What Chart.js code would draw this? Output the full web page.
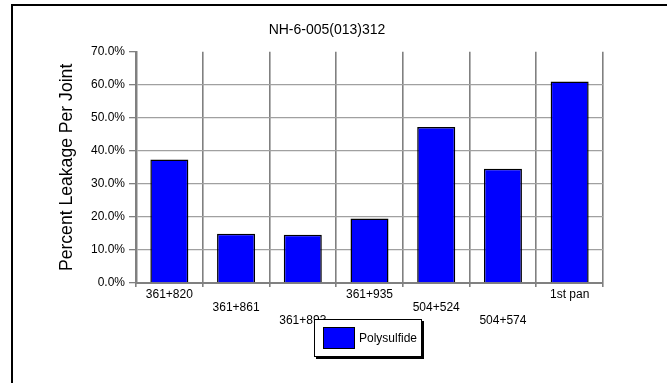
<!DOCTYPE html>
<html>
<head>
<meta charset="utf-8">
<script src="https://cdn.jsdelivr.net/npm/chart.js@4/dist/chart.umd.min.js"></script>
<style>
  html, body { margin: 0; padding: 0; background: #ffffff; }
  #wrap { width: 667px; height: 383px; position: relative; }
</style>
</head>
<body>
<div id="wrap"><canvas id="c" width="667" height="383"></canvas></div>
<script>
// Joint locations (stationing) along the project
const categories = ['361+820', '361+861', '361+893', '361+935', '504+524', '504+574', '1st pan'];
// Percent of joints showing leakage, by location
const leakagePercent = [37.4, 14.9, 14.6, 19.5, 47.2, 34.6, 61.0];
const seriesName = 'Polysulfide';
const chartTitle = 'NH-6-005(013)312';
const yAxisTitle = 'Percent Leakage Per Joint';
const yMax = 70;
const yStep = 5;

const FONT = '"Liberation Sans", Arial, Helvetica, sans-serif';

// Staggered category labels: three rows, cycling left to right
const staggered = categories.map((c, i) => {
  const row = i % 3;
  const lines = [];
  for (let k = 0; k < row; k++) lines.push('');
  lines.push(c);
  return lines;
});

// Frame lines along the top and left of the page
const framePlugin = {
  id: 'frame',
  afterDraw(chart) {
    const ctx = chart.ctx;
    ctx.save();
    ctx.fillStyle = '#000000';
    ctx.fillRect(11, 4, 656, 2);
    ctx.fillRect(11, 4, 2, 379);
    ctx.restore();
  }
};

// Boxed legend with drop shadow, placed under the axis
const boxLegend = {
  id: 'boxLegend',
  afterDraw(chart) {
    const ds = chart.data.datasets[0];
    const ctx = chart.ctx;
    const x = 314, y = 319, w = 108, h = 38;
    ctx.save();
    ctx.fillStyle = '#000000';
    ctx.fillRect(x + 2, y + 2, w, h);
    ctx.fillStyle = '#ffffff';
    ctx.fillRect(x, y, w, h);
    ctx.strokeStyle = '#000000';
    ctx.lineWidth = 1;
    ctx.strokeRect(x + 0.5, y + 0.5, w - 1, h - 1);
    ctx.fillStyle = ds.backgroundColor;
    ctx.fillRect(x + 9, y + 8, 32, 22);
    ctx.strokeRect(x + 9.5, y + 8.5, 31, 21);
    ctx.fillStyle = '#000000';
    ctx.font = '12px ' + FONT;
    ctx.textBaseline = 'middle';
    ctx.textAlign = 'left';
    ctx.fillText(ds.label, x + 45, y + 19.5);
    ctx.restore();
  }
};

new Chart(document.getElementById('c'), {
  type: 'bar',
  data: {
    labels: staggered,
    datasets: [{
      label: seriesName,
      data: leakagePercent,
      backgroundColor: '#0000ff',
      borderColor: '#000000',
      borderWidth: 1.5,
      borderSkipped: 'bottom',
      barPercentage: 0.57,
      categoryPercentage: 1.0
    }]
  },
  options: {
    responsive: false,
    animation: false,
    devicePixelRatio: 1,
    layout: { padding: { left: 51, right: 64, top: 0, bottom: 0 } },
    plugins: {
      legend: { display: false },
      tooltip: { enabled: false },
      title: {
        display: true,
        text: chartTitle,
        color: '#000000',
        font: { family: FONT, size: 14, weight: 'normal', lineHeight: 1.2 },
        padding: { top: 22, bottom: 13 }
      }
    },
    scales: {
      x: {
        offset: true,
        grid: {
          offset: true,
          drawOnChartArea: true,
          color: (ctx) => (ctx.index === 0 || ctx.index === categories.length) ? 'rgba(0,0,0,0)' : '#808080',
          tickColor: '#808080',
          tickLength: 4,
          lineWidth: 1.6
        },
        border: { display: true, color: '#808080', width: 2 },
        ticks: {
          autoSkip: false,
          maxRotation: 0,
          minRotation: 0,
          padding: 1,
          color: '#000000',
          font: { family: FONT, size: 12, lineHeight: '13px' }
        },
        afterFit(scale) { scale.height = 100; }
      },
      y: {
        min: 0,
        max: yMax,
        grid: {
          color: (ctx) => (ctx.tick && (ctx.tick.value === yMax || ctx.tick.value === 0)) ? 'rgba(0,0,0,0)' : '#a0a0a0',
          tickColor: '#808080',
          tickLength: 7,
          lineWidth: 1.3
        },
        border: { display: true, color: '#808080', width: 2.5 },
        ticks: {
          stepSize: yStep,
          padding: 4,
          color: '#000000',
          font: { family: FONT, size: 12 },
          callback: (v) => (v % 10 === 0) ? v.toFixed(1) + '%' : ''
        },
        title: {
          display: true,
          text: yAxisTitle,
          color: '#000000',
          font: { family: FONT, size: 17.6, lineHeight: 1.2 },
          padding: { top: 6, bottom: 0 }
        },
        afterFit(scale) { scale.width = 85; }
      }
    }
  },
  plugins: [framePlugin, boxLegend]
});
</script>
</body>
</html>
